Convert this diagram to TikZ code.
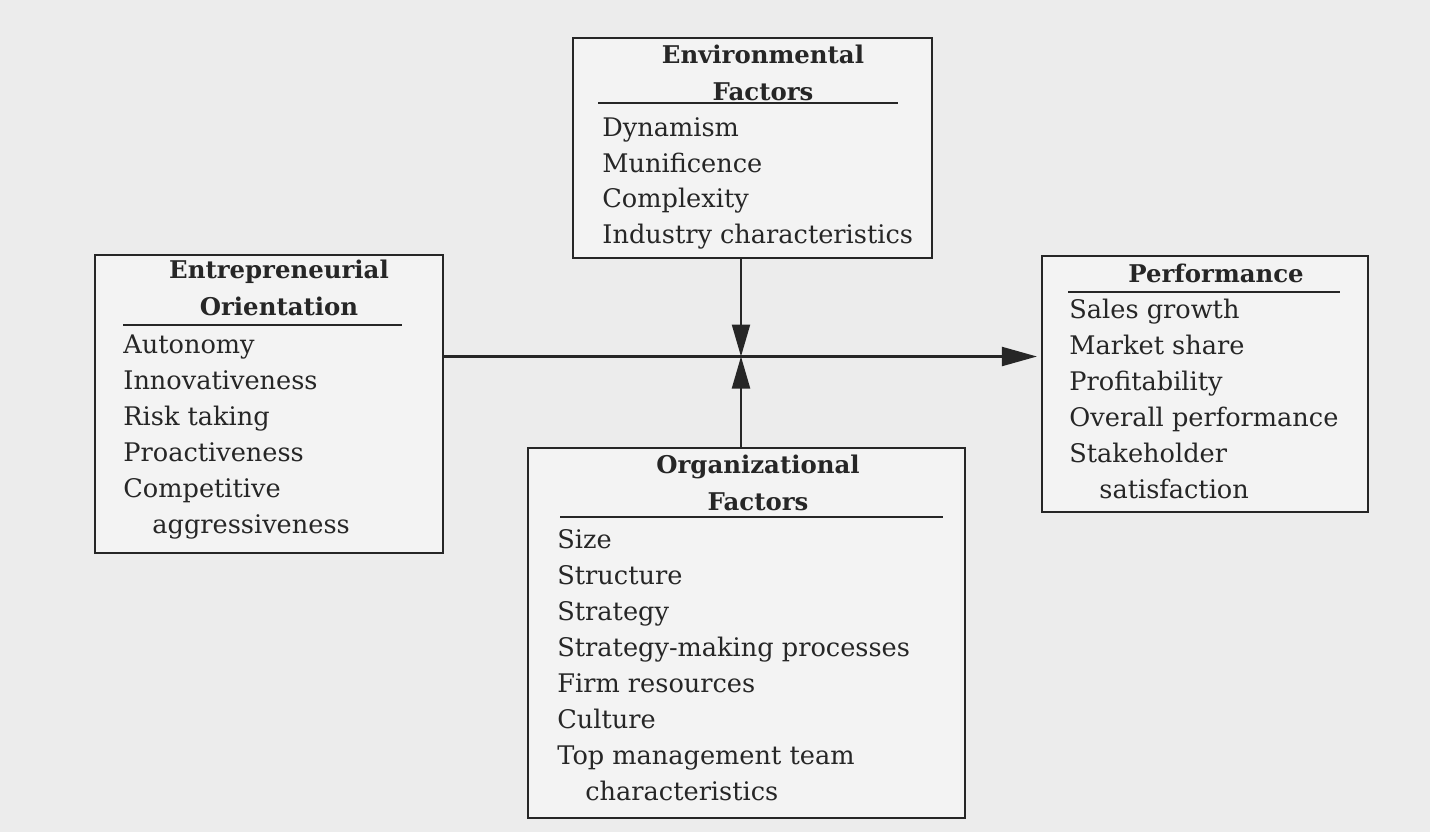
\documentclass[tikz,border=0pt]{standalone}
\usepackage{fontspec}
\setmainfont{DejaVu Serif}
\usetikzlibrary{arrows.meta}
\definecolor{paper}{RGB}{236,236,236}
\definecolor{boxfill}{RGB}{243,243,243}
\definecolor{ink}{RGB}{38,38,38}
\begin{document}
\begin{tikzpicture}[x=0.5pt,y=-0.5pt,
  panel/.style={draw=ink, line width=1.1pt, fill=boxfill, inner sep=0pt, rectangle},
  % multi-line nodes: the base anchor sits on the last line's baseline
  head/.style={font=\bfseries\fontsize{12.2}{18.5}\selectfont, align=center, anchor=base, inner sep=0pt, text=ink},
  items/.style={font=\fontsize{12.8}{18}\selectfont, align=left, anchor=base west, inner sep=0pt, text=ink},
  headrule/.style={draw=ink, line width=0.9pt},
  link/.style={draw=ink, line width=1.1pt},
]
% page
\fill[paper] (0,0) rectangle (1430,832);

% panels
\node[panel, minimum width=179.5pt, minimum height=110pt] (env) at (752.5,148) {};
\node[panel, minimum width=174pt, minimum height=149pt] (eo) at (269,404) {};
\node[panel, minimum width=163pt, minimum height=128pt] (perf) at (1205,384) {};
\node[panel, minimum width=218.5pt, minimum height=185pt] (org) at (746.5,633) {};

% environmental factors
\node[head] (envhead) at (763,100) {Environmental\\Factors};
\draw[headrule] (598,103) -- (898,103);
\node[items, font=\fontsize{12.8}{17.7}\selectfont] (envlist) at (602,243)
  {Dynamism\\Munificence\\Complexity\\Industry characteristics};

% entrepreneurial orientation
\node[head] (eohead) at (279,315) {Entrepreneurial\\Orientation};
\draw[headrule] (123,325) -- (402,325);
\node[items] (eolist) at (123,533)
  {Autonomy\\Innovativeness\\Risk taking\\Proactiveness\\Competitive\\\hspace*{14.5pt}aggressiveness};

% performance
\node[head] (perfhead) at (1216,282) {Performance};
\draw[headrule] (1068,292) -- (1340,292);
\node[items] (perflist) at (1069,498)
  {Sales growth\\Market share\\Profitability\\Overall performance\\Stakeholder\\\hspace*{15pt}satisfaction};

% organizational factors
\node[head] (orghead) at (758,510) {Organizational\\Factors};
\draw[headrule] (560,517) -- (943,517);
\node[items] (orglist) at (557,800)
  {Size\\Structure\\Strategy\\Strategy-making processes\\Firm resources\\Culture\\Top management team\\\hspace*{14pt}characteristics};

% connectors
\coordinate (j) at (741,356.5);
\draw[link, -{Triangle[length=17.5pt,width=9.5pt]}, shorten >=2pt] (eo.east |- j) -- (perf.west |- j);
\draw[link, -{Triangle[length=16pt,width=9pt]}] (env.south -| j) -- (j);
\draw[link, -{Triangle[length=16pt,width=9pt]}] (org.north -| j) -- (j);
\end{tikzpicture}
\end{document}
